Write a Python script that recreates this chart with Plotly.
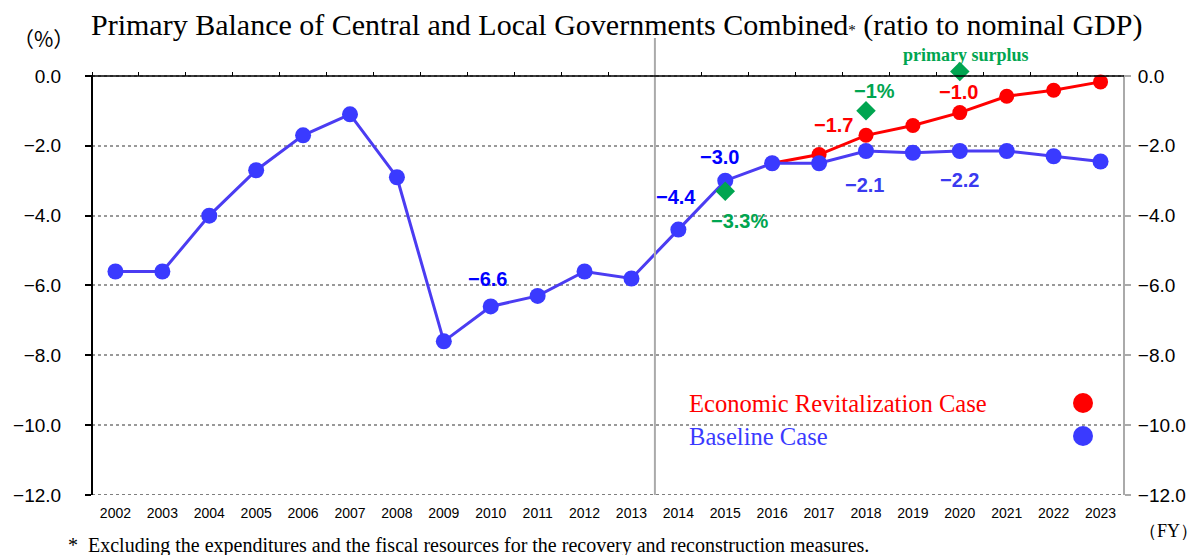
import plotly.graph_objects as go

years = list(range(2002, 2024))
baseline = [-5.6, -5.6, -4.0, -2.7, -1.7, -1.1, -2.9, -7.6, -6.6, -6.3, -5.6, -5.8,
            -4.4, -3.0, -2.5, -2.5, -2.15, -2.2, -2.15, -2.15, -2.3, -2.45]
rev_years = list(range(2016, 2024))
revital = [-2.5, -2.25, -1.7, -1.42, -1.05, -0.58, -0.41, -0.17]
target_years = [2015, 2018, 2020]
targets = [-3.3, -1.0, 0.13]
y_ticks = [0, -2, -4, -6, -8, -10, -12]
y_ticklabels = ["0.0", "−2.0", "−4.0", "−6.0", "−8.0", "−10.0", "−12.0"]

RED = "#ff0000"
BLUE = "#3a3aff"
BLUE_LINE = "#4b3cf2"
GREEN = "#00a550"

# the page body adds an 8px offset; the figure is sized to compensate
OFF = 8
W, H = 1202 - OFF, 555 - OFF
Y_MIN, Y_MAX = -12, 0.6          # headroom so the surplus target is drawn
SCALE = 419 / 12                 # px per unit
PW = 1032
PH = (Y_MAX - Y_MIN) * SCALE
BOTTOM = 495                     # absolute pixel of y=-12
L = 92 - OFF
B = H - (BOTTOM - OFF)
T = H - B - PH

fig = go.Figure()

fig.add_trace(go.Scatter(x=rev_years, y=revital, mode="lines+markers",
                         line=dict(color=RED, width=3),
                         marker=dict(color=RED, size=15), cliponaxis=False,
                         showlegend=False, hoverinfo="x+y"))
fig.add_trace(go.Scatter(x=years, y=baseline, mode="lines+markers",
                         line=dict(color=BLUE_LINE, width=3),
                         marker=dict(color=BLUE, size=16), cliponaxis=False,
                         showlegend=False, hoverinfo="x+y"))
fig.add_trace(go.Scatter(x=target_years, y=targets, mode="markers",
                         marker=dict(color=GREEN, size=15, symbol="diamond"),
                         cliponaxis=False, showlegend=False, hoverinfo="x+y"))
# invisible trace to activate secondary axes
fig.add_trace(go.Scatter(x=years, y=baseline, xaxis="x2", yaxis="y2",
                         mode="markers", marker=dict(opacity=0),
                         showlegend=False, hoverinfo="skip"))

label_font = "Liberation Sans, Arial"
serif = "Liberation Serif, Times New Roman, serif"

def px(xp):
    return (xp - 92) / PW

def py(yp):
    return (BOTTOM - yp) / PH

def lab(x, y, text, color, size=20, family=label_font):
    fig.add_annotation(x=x, y=y, xref="x", yref="y", text="<b>" + text + "</b>",
                       showarrow=False, xanchor="center", yanchor="middle",
                       font=dict(color=color, size=size, family=family))

lab(2009.93, -5.81, "−6.6", "#0000ff")
lab(2013.96, -3.48, "−4.4", "#0000ff")
lab(2014.88, -2.31, "−3.0", "#0000ff")
lab(2015.30, -4.15, "−3.3%", GREEN)
lab(2017.31, -1.40, "−1.7", RED)
lab(2018.18, -0.44, "−1%", GREEN)
lab(2017.97, -3.12, "−2.1", "#3a3af0")
lab(2019.97, -0.47, "−1.0", RED)
lab(2019.99, -2.98, "−2.2", "#3a3af0")
lab(2020.14, 0.60, "primary surplus", GREEN, size=18, family=serif)

# Title
fig.add_annotation(xref="paper", yref="paper", x=px(616), y=py(25),
                   text="Primary Balance of Central and Local Governments Combined"
                        "<span style='font-size:15px'>*</span> (ratio to nominal GDP)",
                   showarrow=False, font=dict(size=30, family=serif, color="black"),
                   xanchor="center", yanchor="middle")
fig.add_annotation(xref="paper", yref="paper", x=px(43), y=py(38), text="（%）",
                   showarrow=False, font=dict(size=21, family="Noto Sans CJK JP", color="black"),
                   xanchor="center", yanchor="middle")
fig.add_annotation(xref="paper", yref="paper", x=px(1168), y=py(531), text="（FY）",
                   showarrow=False, font=dict(size=18, family=serif, color="black"),
                   xanchor="center", yanchor="middle")
fig.add_annotation(xref="paper", yref="paper", x=px(66), y=py(545),
                   text="*  Excluding the expenditures and the fiscal resources for the recovery and reconstruction measures.",
                   showarrow=False, font=dict(size=20, family=serif, color="black"),
                   xanchor="left", yanchor="middle")

# Legend text
fig.add_annotation(xref="paper", yref="paper", x=px(687), y=py(404),
                   text="Economic Revitalization Case", showarrow=False,
                   font=dict(size=24.6, family=serif, color=RED), xanchor="left", yanchor="middle")
fig.add_annotation(xref="paper", yref="paper", x=px(687), y=py(437),
                   text="Baseline Case", showarrow=False,
                   font=dict(size=24.6, family=serif, color=BLUE), xanchor="left", yanchor="middle")

def dot(cx, cy, color, r=10):
    fig.add_shape(type="circle", xref="paper", yref="paper",
                  x0=px(cx - r), x1=px(cx + r), y0=py(cy + r), y1=py(cy - r),
                  fillcolor=color, line=dict(width=0))

dot(1083, 403, RED)
dot(1083, 436, BLUE)

# Vertical divider between 2013 and 2014
fig.add_shape(type="line", xref="x", yref="paper", x0=2013.5, x1=2013.5,
              y0=0, y1=py(38), line=dict(color="#aaaaaa", width=2))
# bottom dotted line
fig.add_shape(type="line", xref="paper", yref="y", x0=0, x1=1, y0=-12, y1=-12,
              line=dict(color="#555555", width=1.5, dash="dot"))
# left (black) and right (gray) axis lines spanning 0 .. -12
fig.add_shape(type="line", xref="paper", yref="y", x0=0, x1=0, y0=-12, y1=0.03,
              line=dict(color="black", width=2))
fig.add_shape(type="line", xref="paper", yref="y", x0=1, x1=1, y0=-12, y1=0.03,
              line=dict(color="#aaaaaa", width=2))
# top solid line at 0 (slightly protruding to the left like the original)
fig.add_shape(type="line", xref="paper", yref="y", x0=px(86), x1=1, y0=0, y1=0,
              line=dict(color="black", width=1.5))

fig.update_layout(
    width=W, height=H,
    margin=dict(l=L, r=W - L - PW, t=T, b=B, autoexpand=False),
    plot_bgcolor="white", paper_bgcolor="white",
    showlegend=False,
    xaxis=dict(range=[2001.5, 2023.5], tickvals=years, ticktext=[str(y) for y in years],
               showgrid=False, zeroline=False, showline=False, ticks="", automargin=False,
               tickfont=dict(size=14, family=label_font, color="black"),
               ticklabelstandoff=8),
    xaxis2=dict(range=[2001.5, 2023.5], overlaying="x", side="top",
                anchor="free", position=(0 - Y_MIN) / (Y_MAX - Y_MIN),
                tickvals=[y + 0.5 for y in range(2001, 2023)], showticklabels=False,
                ticks="outside", ticklen=4, tickcolor="black", tickwidth=1,
                showline=False, automargin=False,
                showgrid=False, zeroline=False),
    yaxis=dict(range=[Y_MIN, Y_MAX], tickvals=y_ticks, ticktext=y_ticklabels,
               showgrid=True, gridcolor="#999999", griddash="dot", gridwidth=1.5,
               zeroline=False, showline=False,
               ticks="outside", ticklen=6, tickcolor="black", tickwidth=1.5,
               automargin=False,
               tickfont=dict(size=19, family="Liberation Sans, Arial", color="black"),
               ticklabelstandoff=20),
    yaxis2=dict(range=[Y_MIN, Y_MAX], overlaying="y", side="right", anchor="x",
                tickvals=y_ticks, ticktext=y_ticklabels,
                showgrid=False, zeroline=False, showline=False, automargin=False,
                ticks="outside", ticklen=6, tickcolor="#aaaaaa", tickwidth=1.5,
                tickfont=dict(size=19, family="Liberation Sans, Arial", color="black"),
                ticklabelstandoff=3),
)

fig.write_html("out.html")
